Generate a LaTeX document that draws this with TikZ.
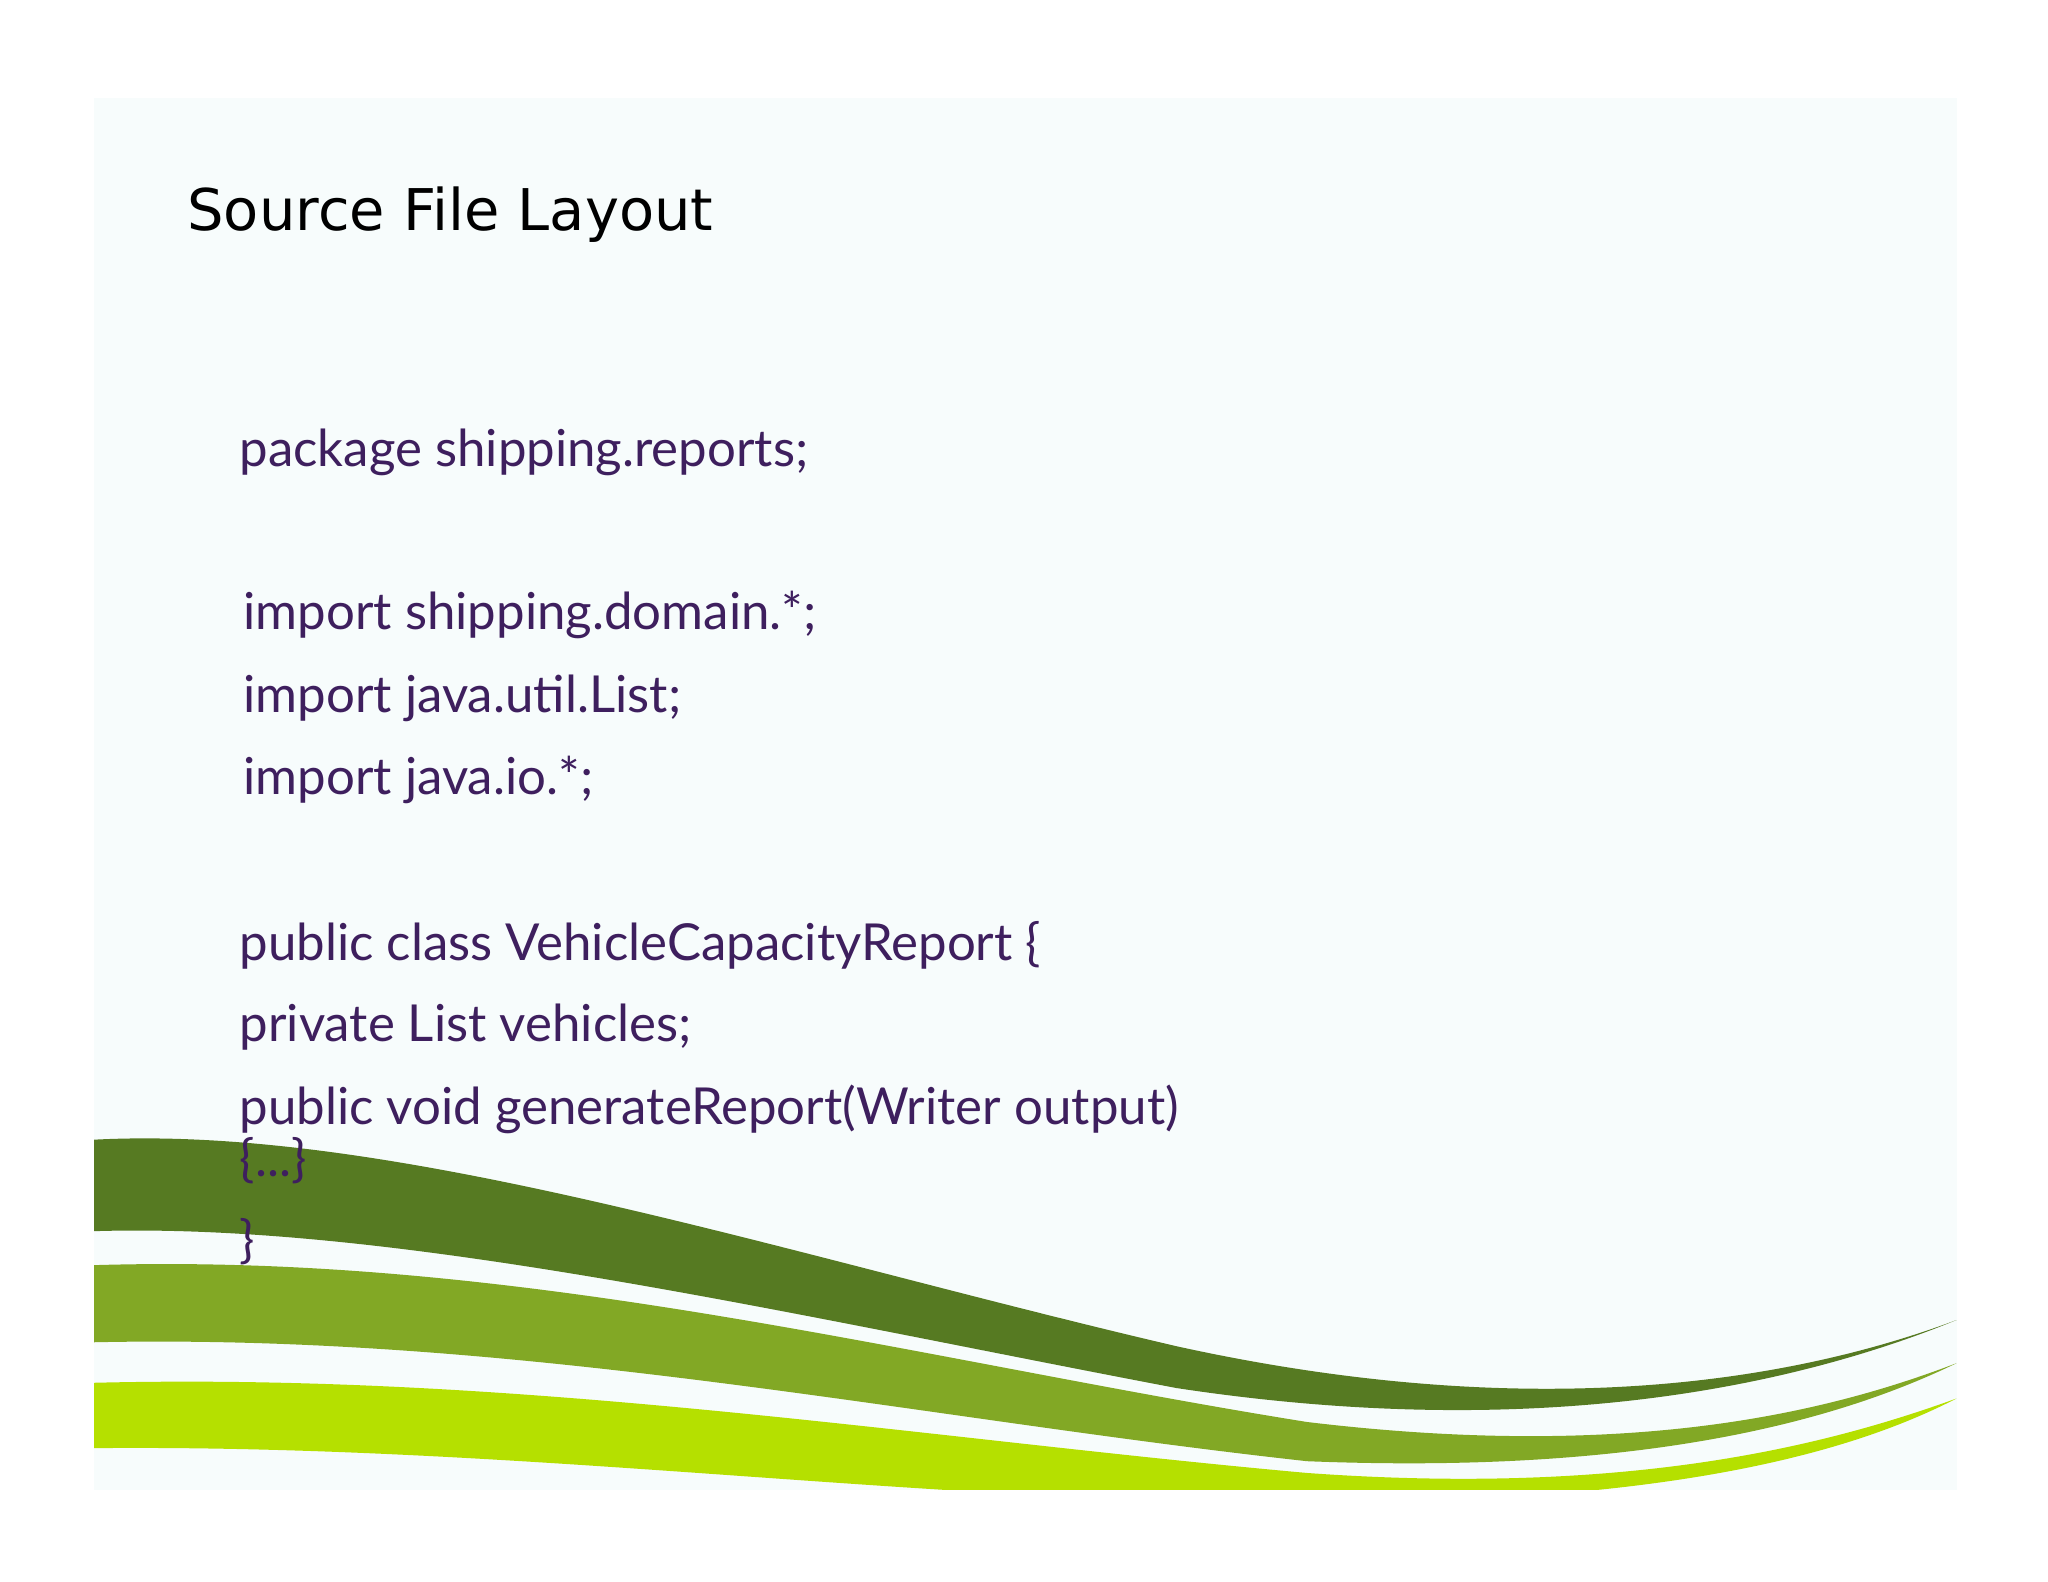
\documentclass[tikz,border=0pt]{standalone}
\usepackage{fontspec}
\setmainfont{Lato}
\newfontfamily\titlefont{DejaVu Sans}
\definecolor{bgc}{HTML}{F7FCFC}
\definecolor{codec}{HTML}{3E1F5E}
\definecolor{gdark}{HTML}{567A22}
\definecolor{gmid}{HTML}{82A825}
\definecolor{glight}{HTML}{B5E000}
\begin{document}
\begin{tikzpicture}[x=0.5pt,y=-0.5pt,
  code/.style={anchor=base west,inner sep=0pt,text=codec,font=\fontsize{19.5}{21}\selectfont}]
\useasboundingbox (0,0) rectangle (1567,1210);
\fill[white] (0,0) rectangle (1567,1210);
\fill[bgc] (72,75) rectangle (1497,1140);
\begin{scope}
\clip (72,75) rectangle (1497,1140);
\fill[gdark] (72,872) .. controls (300,860) and (600,960) .. (900,1030) .. controls (1150,1085) and (1350,1065) .. (1497,1010)
  .. controls (1350,1070) and (1150,1100) .. (900,1062) .. controls (600,1005) and (300,935) .. (72,942) -- cycle;
\fill[gmid] (72,968) .. controls (400,958) and (700,1040) .. (1000,1088) .. controls (1250,1118) and (1400,1080) .. (1497,1043)
  .. controls (1400,1090) and (1250,1128) .. (1000,1118) .. controls (700,1085) and (400,1020) .. (72,1027) -- cycle;
\fill[glight] (72,1058) .. controls (400,1050) and (700,1100) .. (1000,1127) .. controls (1250,1145) and (1400,1105) .. (1497,1070)
  .. controls (1400,1120) and (1250,1150) .. (1000,1150) .. controls (700,1150) and (400,1105) .. (72,1108) -- cycle;
\end{scope}
\node[anchor=base west,inner sep=0pt,font=\titlefont\fontsize{22}{24}\selectfont] (title) at (143,176) {Source File Layout};
\node[code] (l1) at (183,357) {package shipping.reports;};
\node[code] (l2) at (186,482) {import shipping.domain.*;};
\node[code] (l3) at (186,545) {import java.util.List;};
\node[code] (l4) at (186,608) {import java.io.*;};
\node[code] (l5) at (183,735) {public class VehicleCapacityReport \{};
\node[code] (l6) at (183,797) {private List vehicles;};
\node[code] (l7) at (183,860) {public void generateReport(Writer output)};
\node[code] (l8) at (183,900) {\{...\}};
\node[code] (l9) at (183,962) {\}};
\end{tikzpicture}
\end{document}
